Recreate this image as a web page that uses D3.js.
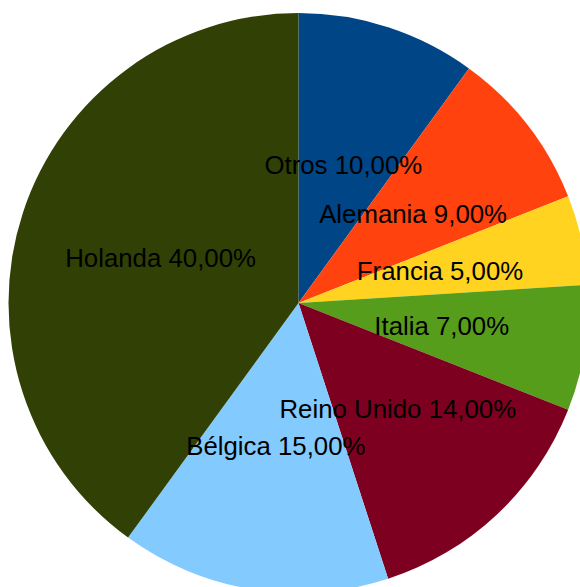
<!DOCTYPE html>
<html>
<head>
<meta charset="utf-8">
<script src="https://cdn.jsdelivr.net/npm/d3@7"></script>
<style>
  body { margin: 0; background: #fff; }
  svg text { font-family: "Liberation Sans", Arial, sans-serif; }
</style>
</head>
<body>
<svg id="chart"></svg>
<script>
const countries = ["Otros", "Alemania", "Francia", "Italia", "Reino Unido", "Bélgica", "Holanda"];
const shares = [10, 9, 5, 7, 14, 15, 40];
const colors = ["#004586", "#ff420e", "#ffd320", "#579d1c", "#7e0021", "#83caff", "#314004"];

const width = 580, height = 587;
const cx = 298.5, cy = 303, radius = 290;

const svg = d3.select("#chart")
  .attr("width", width)
  .attr("height", height);

const root = svg.append("g")
  .attr("transform", `translate(${cx}, ${cy})`);

const data = countries.map((c, i) => ({ name: c, value: shares[i], color: colors[i] }));

const pie = d3.pie()
  .value(d => d.value)
  .sort(null);

const arc = d3.arc()
  .innerRadius(0)
  .outerRadius(radius);

// labels sit roughly half way out
const labelArc = d3.arc()
  .innerRadius(145)
  .outerRadius(145);

const fmt = v => d3.format(".2f")(v).replace(".", ",") + "%";

const slices = pie(data);

root.selectAll("path.slice")
  .data(slices)
  .enter()
  .append("path")
  .attr("class", "slice")
  .attr("fill", d => d.data.color)
  .attr("d", arc);

root.selectAll("text.label")
  .data(slices)
  .enter()
  .append("text")
  .attr("class", "label")
  .attr("transform", d => `translate(${labelArc.centroid(d)})`)
  .attr("text-anchor", "middle")
  .attr("dy", "0.35em")
  .attr("font-size", 25.8)
  .attr("fill", "#000")
  .text(d => `${d.data.name} ${fmt(d.data.value)}`);
</script>
</body>
</html>
